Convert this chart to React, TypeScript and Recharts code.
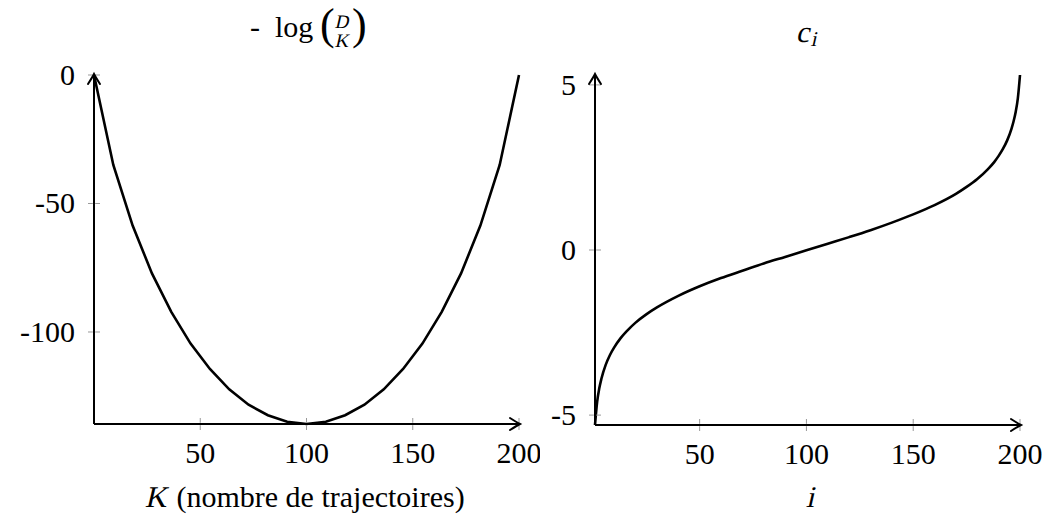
import { LineChart, Line, XAxis, YAxis } from 'recharts'

// left panel: -log binom(D, K)
const kValues = [0, 9.09, 18.18, 27.27, 36.36, 45.45, 54.55, 63.64, 72.73, 81.82, 90.91, 100,
  109.09, 118.18, 127.27, 136.36, 145.45, 154.55, 163.64, 172.73, 181.82, 190.91, 200]
const negLogBinom = [0, -35.0, -58.6, -77.2, -92.2, -104.5, -114.4, -122.3, -128.3, -132.4, -134.9, -135.8,
  -134.9, -132.4, -128.3, -122.3, -114.4, -104.5, -92.2, -77.2, -58.6, -35.0, 0]
const leftXTicks = [50, 100, 150, 200]
const leftYTicks = [-100, -50, 0]

// right panel: c_i
const iValues = [1, 2, 3, 4, 6, 8, 10, 13, 16, 20, 25, 30, 40, 50, 60, 70, 80, 90, 100, 110, 120,
  130, 140, 150, 160, 170, 175, 180, 185, 188, 190, 192, 194, 196, 197, 198, 199, 200]
const cValues = [-5.3, -4.6, -4.19, -3.9, -3.48, -3.18, -2.95, -2.67, -2.45, -2.2, -1.95, -1.74, -1.39,
  -1.1, -0.85, -0.63, -0.41, -0.21, -0.01, 0.19, 0.39, 0.6, 0.83, 1.08, 1.36, 1.7, 1.91, 2.15, 2.45,
  2.67, 2.85, 3.06, 3.32, 3.67, 3.9, 4.19, 4.6, 5.3]
const rightXTicks = [50, 100, 150, 200]
const rightYTicks = [-5, 0, 5]

const leftData = kValues.map((k, idx) => ({ k, v: negLogBinom[idx] }))
const rightData = iValues.map((i, idx) => ({ i, c: cValues[idx] }))

const SERIF = 'Liberation Serif'
const TICK_SIZE = 6
const TICK_MARGIN = 6

function XTick(props: any) {
  const { x, y, payload } = props
  const axisY = y - TICK_SIZE - TICK_MARGIN
  return (
    <g>
      <line x1={x} x2={x} y1={axisY - 6} y2={axisY - 1.2} stroke='#999' strokeWidth={1} />
      <line x1={x} x2={x} y1={axisY + 1.2} y2={axisY + 6} stroke='#999' strokeWidth={1} />
      <text x={x} y={axisY + 39} textAnchor='middle' fontFamily={SERIF} fontSize={30}>
        {String(payload.value)}
      </text>
    </g>
  )
}

function YTick(props: any) {
  const { x, y, payload } = props
  const axisX = x + TICK_SIZE + 13
  return (
    <g>
      <line x1={axisX - 6} x2={axisX - 1.2} y1={y} y2={y} stroke='#999' strokeWidth={1} />
      <line x1={axisX + 1.2} x2={axisX + 6} y1={y} y2={y} stroke='#999' strokeWidth={1} />
      <text x={x} y={y + 10} textAnchor='end' fontFamily={SERIF} fontSize={30}>
        {String(payload.value)}
      </text>
    </g>
  )
}

const axisLine = { stroke: '#000', strokeWidth: 2 }

// arrow heads at the ends of the axis lines
const rightArrow = (tx: number, ty: number) =>
  `M${tx - 9},${ty - 6} Q${tx - 2},${ty - 1.5} ${tx + 1},${ty} Q${tx - 2},${ty + 1.5} ${tx - 9},${ty + 6}`
const upArrow = (tx: number, ty: number) =>
  `M${tx - 6},${ty + 9} Q${tx - 1.5},${ty + 2} ${tx},${ty - 1} Q${tx + 1.5},${ty + 2} ${tx + 6},${ty + 9}`

const slant = { display: 'inline-block', transform: 'skewX(-13deg)' }

const label = (left: number, top: number, size: number, extra: any = {}) => ({
  position: 'absolute' as const,
  left,
  top,
  fontFamily: SERIF,
  fontSize: size,
  lineHeight: size + 'px',
  whiteSpace: 'nowrap' as const,
  color: '#000',
  ...extra,
})

export default function App() {
  return (
    <div style={{ position: 'absolute', left: 0, top: 0, width: 1047, height: 518 }}>
      <div style={{ position: 'absolute', left: 0, top: 0 }}>
        <LineChart width={540} height={518} data={leftData} margin={{ top: 75, right: 21, bottom: 34, left: 0 }}>
          <XAxis
            dataKey='k'
            type='number'
            domain={[0, 200]}
            ticks={leftXTicks}
            axisLine={axisLine}
            tickLine={false}
            tickSize={TICK_SIZE}
            tickMargin={TICK_MARGIN}
            tick={<XTick />}
            height={60}
            interval={0}
          />
          <YAxis
            type='number'
            domain={[-135.8, 0]}
            ticks={leftYTicks}
            axisLine={axisLine}
            tickLine={false}
            tickSize={TICK_SIZE}
            tickMargin={13}
            tick={<YTick />}
            width={94}
            interval={0}
          />
          <Line dataKey='v' type='linear' stroke='#000' strokeWidth={2.6} dot={false} isAnimationActive={false} />
        </LineChart>
      </div>
      <div style={{ position: 'absolute', left: 540, top: 0 }}>
        <LineChart width={507} height={518} data={rightData} margin={{ top: 75, right: 27, bottom: 33, left: 0 }}>
          <XAxis
            dataKey='i'
            type='number'
            domain={[1, 200]}
            ticks={rightXTicks}
            axisLine={axisLine}
            tickLine={false}
            tickSize={TICK_SIZE}
            tickMargin={TICK_MARGIN}
            tick={<XTick />}
            height={60}
            interval={0}
          />
          <YAxis
            type='number'
            domain={[-5.3, 5.3]}
            ticks={rightYTicks}
            axisLine={axisLine}
            tickLine={false}
            tickSize={TICK_SIZE}
            tickMargin={13}
            tick={<YTick />}
            width={55}
            interval={0}
          />
          <Line dataKey='c' type='monotone' stroke='#000' strokeWidth={2.6} dot={false} isAnimationActive={false} />
        </LineChart>
      </div>
      <svg width={1047} height={518} style={{ position: 'absolute', left: 0, top: 0, pointerEvents: 'none' }}>
        <g fill='none' stroke='#000' strokeWidth={2} strokeLinecap='round'>
          <path d={rightArrow(519, 424)} />
          <path d={upArrow(94, 75)} />
          <path d={rightArrow(1020, 425)} />
          <path d={upArrow(595, 75)} />
        </g>
      </svg>
      {/* left title: -log (D over K) */}
      <div style={label(250, 12, 30)}>-</div>
      <div style={label(275, 12, 30)}>log</div>
      <div style={label(320, 3, 44)}>(</div>
      <div style={label(333, 12, 19, { width: 20, textAlign: 'center' })}><span style={slant}>D</span></div>
      <div style={label(333, 31, 19, { width: 20, textAlign: 'center' })}><span style={slant}>K</span></div>
      <div style={label(352, 3, 44)}>)</div>
      {/* right title: c_i */}
      <div style={label(798, 17, 30)}><span style={slant}>c</span></div>
      <div style={label(812, 29, 21)}><span style={slant}>i</span></div>
      {/* axis labels */}
      <div style={label(106, 482, 30, { width: 400, textAlign: 'center' })}>
        <span style={slant}>K</span> (nombre de trajectoires)
      </div>
      <div style={label(762, 482, 30, { width: 100, textAlign: 'center' })}><span style={slant}>i</span></div>
    </div>
  )
}
